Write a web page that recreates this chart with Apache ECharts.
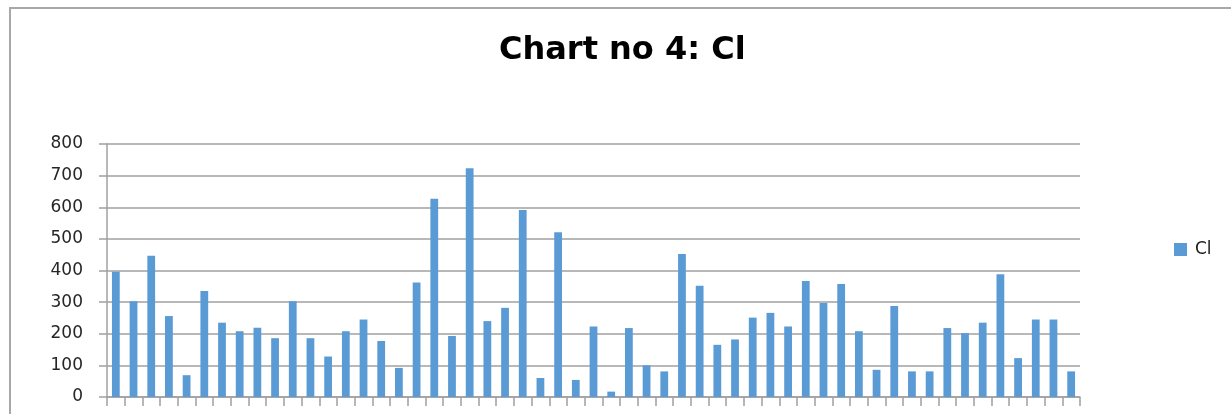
<!DOCTYPE html>
<html>
<head>
<meta charset="utf-8">
<script src="https://cdn.jsdelivr.net/npm/echarts@6/dist/echarts.min.js"></script>
<style>
  html, body { margin: 0; padding: 0; background: #ffffff; }
  #chart { width: 1231px; height: 414px; }
</style>
</head>
<body>
<div id="chart"></div>
<script>
// Sample numbers 1..55 along the category axis (labels are not shown)
const categories = Array.from({ length: 55 }, (_, i) => String(i + 1));

// Chloride (Cl) readings per sample
const clValues = [
  396, 303, 447, 256, 69, 335, 235, 208, 219, 186,
  303, 186, 128, 208, 245, 177, 92, 362, 627, 193,
  723, 240, 282, 591, 60, 521, 54, 223, 17, 218,
  100, 81, 452, 352, 165, 182, 251, 266, 223, 367,
  297, 357, 208, 86, 288, 81, 81, 218, 202, 235,
  388, 123, 245, 245, 81
];

const yTicks = [0, 100, 200, 300, 400, 500, 600, 700, 800];

const chart = echarts.init(document.getElementById('chart'), null, { renderer: 'canvas' });

chart.setOption({
  animation: false,
  backgroundColor: '#ffffff',
  title: {
    text: 'Chart no 4: Cl',
    left: 499,
    top: 35,
    padding: 0,
    textStyle: {
      fontFamily: 'DejaVu Sans',
      fontWeight: 'bold',
      fontSize: 32,
      color: '#000000'
    }
  },
  legend: {
    left: 1174,
    top: 241,
    padding: 0,
    icon: 'rect',
    itemWidth: 13,
    itemHeight: 13,
    itemGap: 6,
    textStyle: {
      fontFamily: 'DejaVu Sans',
      fontSize: 17,
      color: '#1a1a1a',
      padding: [0, 0, 0, 3]
    },
    data: ['Cl']
  },
  grid: {
    left: 107,
    right: 151,
    top: 144,
    bottom: 17,
    containLabel: false
  },
  xAxis: {
    type: 'category',
    data: categories,
    boundaryGap: true,
    axisLine: { show: true, lineStyle: { color: '#a0a0a0', width: 1.5 } },
    axisTick: { show: true, length: 9, alignWithLabel: false, lineStyle: { color: '#a0a0a0', width: 1.5 } },
    axisLabel: { show: false },
    splitLine: { show: false }
  },
  yAxis: {
    type: 'value',
    min: yTicks[0],
    max: yTicks[yTicks.length - 1],
    interval: 100,
    axisLine: { show: true, lineStyle: { color: '#a0a0a0', width: 1.5 } },
    axisTick: { show: true, length: 8, lineStyle: { color: '#a0a0a0', width: 1.5 } },
    axisLabel: {
      margin: 24,
      fontFamily: 'DejaVu Sans',
      fontSize: 17,
      color: '#262626'
    },
    splitLine: { show: true, lineStyle: { color: '#a0a0a0', width: 1.5 } }
  },
  series: [{
    name: 'Cl',
    type: 'bar',
    data: clValues,
    barWidth: '44%',
    itemStyle: { color: '#5b9bd5' }
  }],
  graphic: [{
    type: 'rect',
    z: -1,
    shape: { x: 10, y: 8, width: 1300, height: 500 },
    style: { fill: 'none', stroke: '#a8a8a8', lineWidth: 2 }
  }]
});
</script>
</body>
</html>
